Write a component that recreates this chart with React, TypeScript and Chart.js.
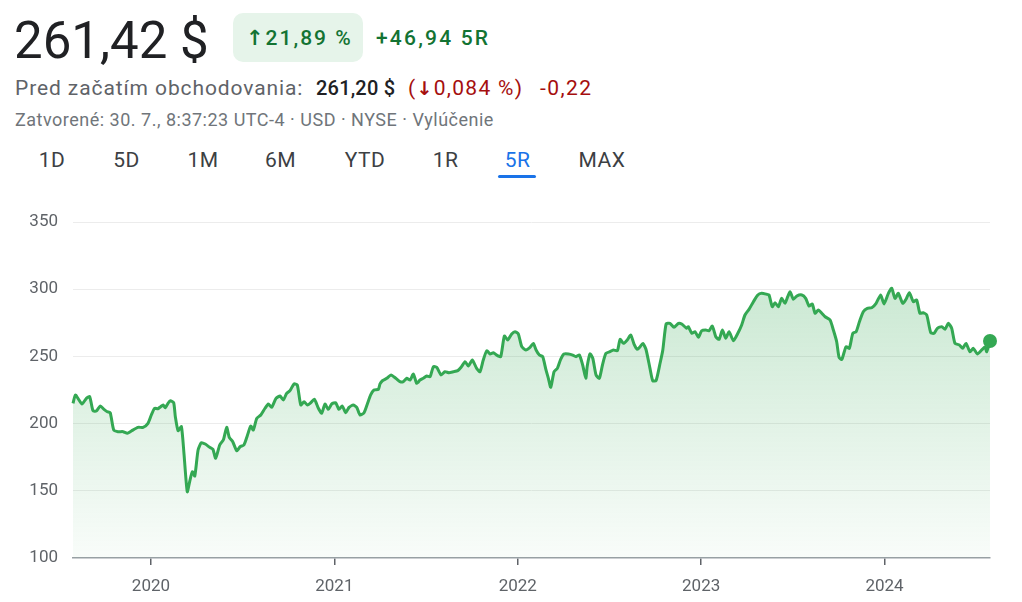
import React, { useEffect, useRef } from "react";
import { Chart, registerables } from "chart.js";

Chart.register(...registerables);

// ---- data (x = decimal year, y = price in USD) ----
const years = [
  2019.575, 2019.588, 2019.602, 2019.624, 2019.648, 2019.666, 2019.684, 2019.702, 2019.724, 2019.744,
  2019.762, 2019.778, 2019.797, 2019.82, 2019.848, 2019.871, 2019.893, 2019.929, 2019.957, 2019.984,
  2020.002, 2020.02, 2020.038, 2020.053, 2020.066, 2020.078, 2020.093, 2020.106, 2020.124, 2020.133,
  2020.148, 2020.166, 2020.18, 2020.198, 2020.213, 2020.226, 2020.239, 2020.257, 2020.275, 2020.296,
  2020.32, 2020.338, 2020.353, 2020.375, 2020.395, 2020.413, 2020.427, 2020.446, 2020.468, 2020.486,
  2020.507, 2020.525, 2020.544, 2020.558, 2020.577, 2020.599, 2020.622, 2020.64, 2020.658, 2020.682,
  2020.704, 2020.722, 2020.74, 2020.758, 2020.78, 2020.798, 2020.817, 2020.835, 2020.853, 2020.871,
  2020.891, 2020.913, 2020.931, 2020.949, 2020.967, 2020.986, 2021.007, 2021.025, 2021.043, 2021.062,
  2021.08, 2021.103, 2021.122, 2021.14, 2021.162, 2021.18, 2021.198, 2021.216, 2021.24, 2021.249,
  2021.262, 2021.286, 2021.309, 2021.335, 2021.358, 2021.376, 2021.395, 2021.413, 2021.431, 2021.449,
  2021.467, 2021.485, 2021.504, 2021.522, 2021.54, 2021.558, 2021.582, 2021.603, 2021.625, 2021.649,
  2021.673, 2021.691, 2021.713, 2021.731, 2021.752, 2021.776, 2021.794, 2021.812, 2021.831, 2021.849,
  2021.867, 2021.885, 2021.907, 2021.927, 2021.945, 2021.967, 2021.985, 2022.003, 2022.022, 2022.044,
  2022.067, 2022.085, 2022.1, 2022.118, 2022.136, 2022.154, 2022.167, 2022.18, 2022.198, 2022.216,
  2022.234, 2022.252, 2022.276, 2022.3, 2022.318, 2022.336, 2022.354, 2022.371, 2022.379, 2022.394,
  2022.409, 2022.427, 2022.445, 2022.463, 2022.481, 2022.503, 2022.521, 2022.543, 2022.558, 2022.576,
  2022.597, 2022.616, 2022.634, 2022.652, 2022.667, 2022.682, 2022.699, 2022.721, 2022.736, 2022.754,
  2022.776, 2022.791, 2022.809, 2022.83, 2022.852, 2022.876, 2022.894, 2022.921, 2022.93, 2022.949,
  2022.967, 2022.985, 2023.003, 2023.025, 2023.043, 2023.061, 2023.08, 2023.098, 2023.116, 2023.134,
  2023.152, 2023.176, 2023.2, 2023.221, 2023.239, 2023.261, 2023.285, 2023.309, 2023.33, 2023.358,
  2023.37, 2023.388, 2023.403, 2023.421, 2023.439, 2023.457, 2023.472, 2023.485, 2023.503, 2023.521,
  2023.549, 2023.57, 2023.588, 2023.606, 2023.621, 2023.639, 2023.658, 2023.676, 2023.703, 2023.721,
  2023.739, 2023.752, 2023.767, 2023.79, 2023.808, 2023.827, 2023.845, 2023.863, 2023.884, 2023.906,
  2023.93, 2023.954, 2023.979, 2023.997, 2024.021, 2024.039, 2024.057, 2024.075, 2024.099, 2024.117,
  2024.135, 2024.157, 2024.175, 2024.193, 2024.211, 2024.23, 2024.252, 2024.27, 2024.288, 2024.312,
  2024.33, 2024.348, 2024.366, 2024.384, 2024.408, 2024.426, 2024.444, 2024.466, 2024.484, 2024.506,
  2024.53, 2024.548, 2024.557, 2024.575,
];

const prices = [
  215.1, 221.3, 218.8, 214.6, 218.8, 220.0, 209.6, 209.4, 213.1, 210.6,
  208.8, 208.1, 195.2, 194.0, 194.0, 192.8, 194.5, 197.2, 197.2, 200.2,
  206.4, 211.4, 211.1, 212.6, 213.8, 211.8, 215.1, 217.0, 215.5, 205.1,
  194.7, 197.7, 177.9, 149.3, 158.0, 164.2, 161.0, 180.4, 185.8, 184.8,
  182.4, 180.9, 174.2, 184.1, 188.0, 197.2, 189.8, 186.5, 179.8, 182.8,
  184.1, 190.8, 198.2, 195.2, 203.9, 206.4, 211.4, 214.6, 212.1, 218.8,
  220.5, 217.6, 222.5, 224.5, 229.5, 228.7, 213.8, 216.3, 213.8, 215.5,
  218.1, 211.4, 207.7, 214.6, 210.6, 214.6, 215.5, 210.6, 213.1, 208.1,
  212.1, 213.8, 212.1, 206.4, 208.1, 214.6, 221.3, 225.0, 225.5, 229.5,
  231.9, 233.7, 236.2, 233.7, 231.2, 231.2, 233.7, 232.4, 236.9, 230.0,
  232.4, 233.7, 235.4, 234.9, 242.3, 241.9, 236.2, 238.6, 237.9, 238.6,
  239.4, 241.9, 246.0, 242.8, 247.3, 241.1, 238.6, 247.3, 254.2, 251.8,
  252.7, 251.0, 249.8, 265.2, 262.2, 266.7, 268.4, 266.7, 257.2, 254.8,
  256.8, 259.7, 254.8, 251.0, 249.8, 239.9, 233.7, 227.0, 238.6, 241.1,
  247.8, 251.8, 251.8, 251.0, 249.8, 251.0, 243.6, 233.7, 242.8, 251.8,
  248.6, 236.2, 233.7, 244.3, 252.3, 253.5, 254.8, 254.2, 262.7, 259.7,
  262.2, 265.9, 259.2, 255.3, 257.2, 259.7, 255.3, 241.1, 231.9, 231.9,
  244.9, 254.8, 274.1, 274.6, 271.6, 274.6, 274.1, 270.9, 272.1, 267.2,
  268.4, 264.2, 269.1, 269.6, 269.1, 272.6, 264.6, 262.7, 269.6, 263.5,
  268.4, 261.7, 267.2, 273.4, 280.8, 285.0, 290.7, 295.7, 296.9, 296.2,
  295.7, 287.0, 289.9, 287.0, 293.2, 289.5, 294.4, 298.1, 292.5, 294.9,
  295.7, 293.2, 287.5, 289.0, 282.1, 284.5, 282.1, 279.5, 277.1, 269.6,
  260.9, 249.3, 247.8, 257.2, 256.0, 267.2, 268.4, 275.8, 283.3, 285.8,
  286.2, 289.5, 295.7, 289.0, 296.9, 300.7, 293.2, 296.9, 289.5, 292.5,
  297.4, 290.7, 292.0, 282.1, 282.5, 280.8, 267.6, 267.2, 270.9, 272.1,
  270.2, 274.6, 270.9, 259.7, 258.5, 256.0, 259.7, 253.5, 256.0, 251.8,
  254.8, 257.2, 253.5, 261.42,
];

const yearTicks = [2020, 2021, 2022, 2023, 2024];
const yearTickLabels = ["2020", "2021", "2022", "2023", "2024"];
const priceTicks = [100, 150, 200, 250, 300, 350];
const xStart = 2019.575;
const xEnd = 2024.575;

const tabs = ["1D", "5D", "1M", "6M", "YTD", "1R", "5R", "MAX"];
const tabCenters = [52, 126.5, 203, 280.5, 365, 445.5, 517.5, 602];
const activeTab = "5R";

const FONT = 'Roboto, "Noto Sans", Arial, sans-serif';
const ARROW_FONT = '"DejaVu Sans", Roboto, sans-serif';
const GREEN = "#34a853";

function Txt(props: {
  x: number;
  cy: number;
  size: number;
  color: string;
  weight?: number;
  children: React.ReactNode;
  center?: boolean;
  ls?: number;
}) {
  const h = Math.round(props.size * 1.4);
  return (
    <div
      style={{
        position: "absolute",
        left: props.x,
        top: props.cy - h / 2,
        height: h,
        lineHeight: h + "px",
        fontSize: props.size,
        fontFamily: FONT,
        fontWeight: props.weight ?? 400,
        color: props.color,
        whiteSpace: "pre",
        letterSpacing: props.ls ?? 0,
        transform: props.center ? "translateX(-50%)" : undefined,
      }}
    >
      {props.children}
    </div>
  );
}

function Arrow(props: { ch: string; size: number; weight?: number }) {
  return (
    <span style={{ fontFamily: ARROW_FONT, fontSize: props.size, fontWeight: props.weight ?? 300 }}>
      {props.ch}
    </span>
  );
}

function PriceChart() {
  const ref = useRef<HTMLCanvasElement | null>(null);
  useEffect(() => {
    if (!ref.current) return;
    const last = prices.length - 1;
    const chart = new Chart(ref.current, {
      type: "line",
      data: {
        datasets: [
          {
            data: years.map((x, i) => ({ x, y: prices[i] })),
            borderColor: GREEN,
            borderWidth: 3,
            tension: 0.2,
            fill: "start",
            backgroundColor: (ctx: any) => {
              const c = ctx.chart;
              const a = c.chartArea;
              if (!a) return "rgba(52,168,83,0.15)";
              const g = c.ctx.createLinearGradient(0, a.top, 0, a.bottom);
              g.addColorStop(0, "rgba(52,168,83,0.31)");
              g.addColorStop(1, "rgba(52,168,83,0.03)");
              return g;
            },
            pointRadius: (ctx: any) => (ctx.dataIndex === last ? 7 : 0),
            pointBackgroundColor: GREEN,
            pointBorderWidth: 0,
            pointHoverRadius: 0,
            clip: false as any,
          } as any,
        ],
      },
      options: {
        animation: false,
        responsive: false,
        maintainAspectRatio: false,
        events: [],
        layout: {
          autoPadding: false,
          padding: { top: 16, right: 32, left: 0, bottom: 0 },
        } as any,
        plugins: { legend: { display: false }, tooltip: { enabled: false } },
        scales: {
          x: {
            type: "linear",
            min: xStart,
            max: xEnd,
            afterBuildTicks: (s: any) => {
              s.ticks = yearTicks.map((v) => ({ value: v }));
            },
            afterFit: (s: any) => {
              s.height = 44;
              s.paddingLeft = 0;
              s.paddingRight = 0;
            },
            grid: {
              drawOnChartArea: false,
              drawTicks: true,
              tickLength: 7,
              color: "#5f6368",
              lineWidth: 1.5,
            },
            border: { display: true, color: "#9aa0a6", width: 1.5 },
            ticks: {
              padding: 12,
              color: "#5f6368",
              font: { family: FONT, size: 17 },
              maxRotation: 0,
              autoSkip: false,
              callback: (_v: any, i: number) => yearTickLabels[i],
            },
          },
          y: {
            min: 100,
            max: 350,
            afterBuildTicks: (s: any) => {
              s.ticks = priceTicks.map((v) => ({ value: v }));
            },
            afterFit: (s: any) => {
              s.width = 73;
              s.paddingTop = 0;
              s.paddingBottom = 0;
            },
            grid: {
              drawTicks: false,
              color: (c: any) => (c.tick && c.tick.value === 100 ? "rgba(0,0,0,0)" : "#ececec"),
              lineWidth: 1,
            },
            border: { display: false },
            ticks: {
              padding: 15,
              color: "#5f6368",
              font: { family: FONT, size: 17 },
              callback: (v: any) => String(v),
            },
          },
        },
      },
    });
    return () => chart.destroy();
  }, []);
  return (
    <canvas
      ref={ref}
      width={1022}
      height={396}
      style={{ position: "absolute", left: 0, top: 206, width: 1022, height: 396 }}
    />
  );
}

export default function App() {
  return (
    <div
      style={{
        position: "absolute",
        left: 0,
        top: 0,
        width: 1022,
        height: 602,
        overflow: "hidden",
        background: "#fff",
      }}
    >
      <Txt x={14} cy={40} size={51} color="#202124">
        261,42 $
      </Txt>
      <div
        style={{
          position: "absolute",
          left: 233,
          top: 13,
          width: 130,
          height: 49,
          borderRadius: 10,
          background: "#e6f4ea",
        }}
      />
      <Txt x={246} cy={38} size={21} color="#137333" weight={500} ls={2}>
        <Arrow ch="↑" size={21} weight={700} />
        21,89 %
      </Txt>
      <Txt x={376} cy={38} size={21} color="#137333" weight={500} ls={2.2}>
        +46,94 5R
      </Txt>

      <Txt x={15} cy={88} size={21} color="#5f6368" ls={0.9}>
        Pred začatím obchodovania:
      </Txt>
      <Txt x={316} cy={88} size={20} color="#202124" weight={500} ls={0.2}>
        261,20 $
      </Txt>
      <Txt x={408} cy={88} size={21} color="#a50e0e" ls={1.3}>
        {"("}
        <Arrow ch="↓" size={19} weight={700} />
        {"0,084 %)"}
      </Txt>
      <Txt x={540} cy={88} size={21} color="#a50e0e" ls={1.4}>
        -0,22
      </Txt>

      <Txt x={15} cy={119} size={18} color="#70757a" ls={0.5}>
        Zatvorené: 30. 7., 8:37:23 UTC-4 · USD · NYSE · Vylúčenie
      </Txt>

      {tabs.map((t, i) => (
        <Txt
          key={t}
          x={tabCenters[i]}
          cy={160}
          size={21}
          center
          ls={0.5}
          color={t === activeTab ? "#1a73e8" : "#3c4043"}
        >
          {t}
        </Txt>
      ))}
      <div
        style={{
          position: "absolute",
          left: 498,
          top: 175,
          width: 38,
          height: 3,
          borderRadius: 2,
          background: "#1a73e8",
        }}
      />

      <PriceChart />
    </div>
  );
}
